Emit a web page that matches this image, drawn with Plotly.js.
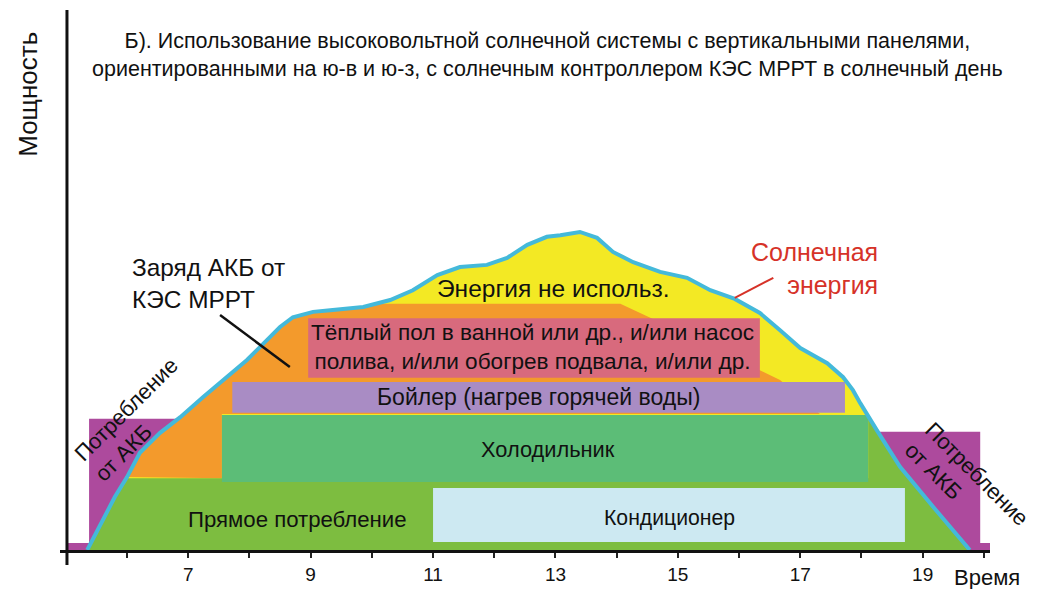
<!DOCTYPE html>
<html>
<head>
<meta charset="utf-8">
<script src="https://cdn.plot.ly/plotly-3.0.1.min.js"></script>
<style>html,body{margin:0;padding:0;background:#fff;}#chart{width:1040px;height:589px;}</style>
</head>
<body>
<div id="chart"></div>
<script>
// ---- data (hours, power in relative units) ----
const solarHours = [5.35, 5.61, 5.80, 6.00, 6.21, 6.54, 6.87, 7.24, 7.63, 7.96, 8.29, 8.50, 8.71, 9.04, 9.32, 9.86, 10.30, 10.67, 11.07, 11.44, 11.88, 12.21, 12.54, 12.86, 13.08, 13.40, 13.68, 13.94, 14.27, 14.71, 15.15, 15.53, 15.93, 16.34, 16.67, 17.00, 17.44, 17.70, 17.86, 17.98, 18.25, 18.63, 19.17, 19.73, 19.77];
const solarPower = [0, 5.6, 9.8, 13.5, 18.0, 21.7, 24.6, 28.3, 32.0, 35.2, 38.9, 41.3, 43.1, 44.1, 44.4, 45.0, 46.3, 48.1, 50.9, 52.4, 52.8, 54.1, 56.5, 58.0, 58.3, 58.9, 57.8, 55.2, 53.3, 51.5, 50.4, 48.1, 46.5, 43.9, 40.7, 37.4, 34.6, 32.0, 29.6, 27.2, 22.2, 15.4, 8.0, 0.6, 0];

// loads (rectangles): name, start hour, end hour, low, high
const loadNames = ["Кондиционер", "Холодильник", "Бойлер (нагрев горячей воды)", "Тёплый пол в ванной или др., и/или насос<br>полива, и/или обогрев подвала, и/или др."];
const loadStart = [11.0, 7.55, 7.72, 8.96];
const loadEnd   = [18.71, 18.11, 17.73, 16.34];
const loadLow   = [1.5, 12.6, 25.4, 31.9];
const loadHigh  = [11.5, 25.0, 31.1, 42.9];

// battery consumption blocks (night / morning / evening)
const battLeftX  = [5.02, 5.02, 5.38, 5.38, 6.83, 6.83];
const battLeftY  = [0, 1.3, 1.3, 24.3, 24.3, 0];
const battRightX = [18.1, 18.1, 19.94, 19.94, 20.15, 20.15];
const battRightY = [0, 21.9, 21.9, 1.3, 1.3, 0];

// battery charging region (corner points after the left part of the solar curve)
const chargeCornerX = [10.1, 14.06, 14.55, 16.67, 17.32, 7.55, 7.55];
const chargeCornerY = [45.6, 45.6, 43.0, 31.5, 25.2, 25.2, 13.3];
// direct consumption level
const directLevel = 13.3;
const directRightTop = 25.0;
const directRightX = 18.11;

const tickHours = [6,7,8,9,10,11,12,13,14,15,16,17,18,19,20];
const tickLabels = ["","7","","9","","11","","13","","15","","17","","19",""];

// ---- build ----
const FONT = "Liberation Sans, Arial, sans-serif";
const C = {
  yellow: "#f3e924", orange: "#f39a2c", green: "#7dbd40", fridge: "#5cbd77",
  boiler: "#a98cc4", pink: "#d86a7d", blue: "#cde9f2", magenta: "#ad4a9d",
  cyan: "#44b9da", red: "#d63228"
};
const loadColors = [C.blue, C.fridge, C.boiler, C.pink];

const traces = [];
traces.push({x: battLeftX, y: battLeftY, type: "scatter", mode: "lines", fill: "toself", fillcolor: C.magenta, line: {width: 0}, hoverinfo: "skip"});
traces.push({x: battRightX, y: battRightY, type: "scatter", mode: "lines", fill: "toself", fillcolor: C.magenta, line: {width: 0}, hoverinfo: "skip"});
traces.push({x: solarHours, y: solarPower, type: "scatter", mode: "lines", fill: "tozeroy", fillcolor: C.yellow, line: {width: 0}, hoverinfo: "skip"});

// charging polygon: left part of solar curve from direct level up to the top of charge region
const cX = [], cY = [];
for (let i = 0; i < solarHours.length; i++) {
  if (solarHours[i] < 10.1 && solarPower[i] >= directLevel) { cX.push(solarHours[i]); cY.push(solarPower[i]); }
}
chargeCornerX.forEach((v, i) => { cX.push(v); cY.push(chargeCornerY[i]); });
traces.push({x: cX, y: cY, type: "scatter", mode: "lines", fill: "toself", fillcolor: C.orange, line: {width: 0}, hoverinfo: "skip"});

// direct consumption polygon
const gX = [], gY = [];
for (let i = 0; i < solarHours.length; i++) {
  if (solarHours[i] < 7 && solarPower[i] <= directLevel + 0.3) { gX.push(solarHours[i]); gY.push(solarPower[i]); }
}
gX.push(gX[gX.length-1]); gY.push(directLevel);
gX.push(directRightX); gY.push(directLevel);
gX.push(directRightX); gY.push(directRightTop);
for (let i = 0; i < solarHours.length; i++) {
  if (solarHours[i] > directRightX) { gX.push(solarHours[i]); gY.push(solarPower[i]); }
}
traces.push({x: gX, y: gY, type: "scatter", mode: "lines", fill: "toself", fillcolor: C.green, line: {width: 0}, hoverinfo: "skip"});

// load rectangles
loadNames.forEach((n, i) => {
  traces.push({
    x: [loadStart[i], loadEnd[i], loadEnd[i], loadStart[i], loadStart[i]],
    y: [loadLow[i], loadLow[i], loadHigh[i], loadHigh[i], loadLow[i]],
    type: "scatter", mode: "lines", fill: "toself", fillcolor: loadColors[i], line: {width: 0}, hoverinfo: "skip"
  });
});

// solar curve line
traces.push({x: solarHours, y: solarPower, type: "scatter", mode: "lines", line: {color: C.cyan, width: 4}, hoverinfo: "skip"});

const txt = (text, x, y, size, opts) => Object.assign({text: text, x: x, y: y, xref: "x", yref: "y", xanchor: "center", yanchor: "middle", showarrow: false, font: {family: FONT, size: size, color: "#111"}}, opts || {});

const annotations = [
  txt("Б). Использование высоковольтной солнечной системы с вертикальными панелями,<br>ориентированными на ю-в и ю-з, с солнечным контроллером КЭС МРРТ в солнечный день", 0.5247, 0.9167, 21.5, {xref: "paper", yref: "paper"}),
  txt("Мощность", -0.0344, 0.843, 26, {xref: "paper", yref: "paper", textangle: -90}),
  txt("Время", 0.997, -0.05, 22, {xref: "paper", yref: "paper"}),
  txt("Энергия не использ.", 12.96, 48.5, 24.5),
  txt(loadNames[3], 12.63, 37.6, 22.6),
  txt(loadNames[2], 12.72, 28.3, 23),
  txt(loadNames[1], 12.88, 18.6, 21.8),
  txt(loadNames[0], 14.87, 5.9, 21.2),
  txt("Прямое потребление", 8.78, 5.6, 22.2),
  txt("Заряд АКБ от<br>КЭС МРРТ", 6.05, 49.3, 24.4, {xanchor: "left", align: "left"}),
  txt("Солнечная<br>энергия", 18.30, 52.2, 25, {xanchor: "right", align: "right", font: {family: FONT, size: 25, color: C.red}}),
  txt("Потребление<br>от АКБ", 6.15, 24.1, 22, {textangle: -45, align: "left"}),
  txt("Потребление<br>от АКБ", 19.71, 12.2, 22, {textangle: 45, align: "left"})
];

const shapes = [
  {type: "line", xref: "paper", yref: "paper", x0: 0.0075, x1: 0.0075, y0: -0.028, y1: 1.0, line: {color: "#111", width: 3}, layer: "above"},
  {type: "line", xref: "x", yref: "y", x0: 7.52, y0: 43.5, x1: 8.66, y1: 33.9, line: {color: "#111", width: 2.5}, layer: "above"},
  {type: "line", xref: "x", yref: "y", x0: 16.56, y0: 50.4, x1: 15.93, y1: 46.7, line: {color: C.red, width: 2}, layer: "above"}
];

const layout = {
  width: 1040, height: 589,
  margin: {l: 60, r: 50, t: 10, b: 39, pad: 0},
  paper_bgcolor: "#fff", plot_bgcolor: "#fff",
  showlegend: false,
  xaxis: {range: [4.905, 20.10], tickvals: tickHours, ticktext: tickLabels, ticks: "outside", ticklen: 5, tickwidth: 2, tickcolor: "#222",
          showline: true, linewidth: 3, linecolor: "#111", showgrid: false, zeroline: false, fixedrange: true,
          tickfont: {family: FONT, size: 19, color: "#111"}},
  yaxis: {range: [0, 100], visible: false, fixedrange: true},
  annotations: annotations,
  shapes: shapes
};

Plotly.newPlot("chart", traces, layout, {displayModeBar: false, staticPlot: true});
</script>
</body>
</html>
